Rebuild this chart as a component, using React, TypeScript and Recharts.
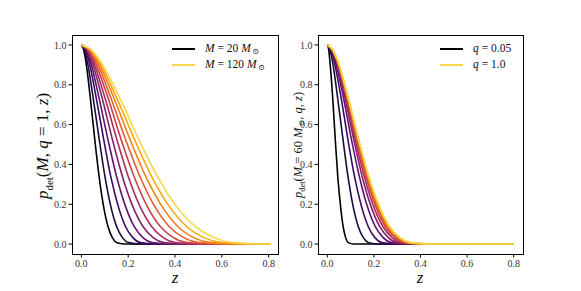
import React from 'react';
import { LineChart, Line, XAxis, YAxis } from 'recharts';

// detection-probability levels at which each curve's redshift was read
const pLevels = [1, 0.977, 0.919, 0.737, 0.528, 0.337, 0.188, 0.087, 0.031, 0.007, 0];
const zEnd = 0.8;

// Left panel: M = 20 ... 120 Msun, q = 1
const massValues = [20, 30, 40, 50, 60, 70, 80, 90, 100, 110, 120];
const massZ = [
  [0, 0.0095, 0.019, 0.038, 0.057, 0.076, 0.095, 0.114, 0.133, 0.152, 0.19],
  [0, 0.0126, 0.025, 0.05, 0.076, 0.101, 0.126, 0.151, 0.176, 0.202, 0.252],
  [0, 0.016, 0.032, 0.063, 0.095, 0.126, 0.158, 0.189, 0.221, 0.252, 0.315],
  [0, 0.019, 0.038, 0.075, 0.113, 0.151, 0.189, 0.226, 0.264, 0.302, 0.377],
  [0, 0.022, 0.044, 0.088, 0.132, 0.176, 0.22, 0.264, 0.308, 0.352, 0.44],
  [0, 0.025, 0.05, 0.1, 0.151, 0.201, 0.251, 0.301, 0.351, 0.402, 0.502],
  [0, 0.028, 0.056, 0.113, 0.169, 0.226, 0.282, 0.338, 0.395, 0.451, 0.564],
  [0, 0.031, 0.063, 0.125, 0.188, 0.251, 0.314, 0.376, 0.439, 0.502, 0.627],
  [0, 0.034, 0.069, 0.138, 0.207, 0.276, 0.345, 0.413, 0.482, 0.551, 0.689],
  [0, 0.038, 0.075, 0.15, 0.226, 0.301, 0.376, 0.451, 0.526, 0.602, 0.752],
  [0, 0.041, 0.081, 0.163, 0.244, 0.326, 0.407, 0.488, 0.57, 0.651, 0.814],
];

// Right panel: M = 60 Msun, q = 0.05 ... 1.0
const qValues = [0.05, 0.1, 0.2, 0.3, 0.4, 0.5, 0.6, 0.7, 0.8, 0.9, 1.0];
const qZ = [
  [0, 0.006, 0.011, 0.023, 0.034, 0.045, 0.057, 0.068, 0.079, 0.09, 0.113],
  [0, 0.011, 0.022, 0.044, 0.067, 0.089, 0.111, 0.133, 0.155, 0.178, 0.222],
  [0, 0.015, 0.029, 0.059, 0.088, 0.117, 0.147, 0.176, 0.205, 0.234, 0.293],
  [0, 0.017, 0.034, 0.069, 0.103, 0.138, 0.172, 0.206, 0.241, 0.275, 0.344],
  [0, 0.019, 0.038, 0.075, 0.113, 0.15, 0.188, 0.225, 0.263, 0.3, 0.375],
  [0, 0.02, 0.04, 0.08, 0.119, 0.159, 0.199, 0.239, 0.279, 0.318, 0.398],
  [0, 0.021, 0.042, 0.083, 0.125, 0.166, 0.208, 0.249, 0.291, 0.332, 0.415],
  [0, 0.021, 0.043, 0.086, 0.128, 0.171, 0.214, 0.257, 0.3, 0.342, 0.428],
  [0, 0.022, 0.044, 0.087, 0.131, 0.175, 0.219, 0.262, 0.306, 0.35, 0.437],
  [0, 0.022, 0.044, 0.089, 0.133, 0.177, 0.222, 0.266, 0.31, 0.354, 0.443],
  [0, 0.022, 0.045, 0.089, 0.134, 0.179, 0.224, 0.268, 0.313, 0.358, 0.447],
];

const curveColors = [
  '#000004', '#180c3c', '#3a0963', '#5f136e', '#832169', '#a82e5f',
  '#c9404a', '#e55c30', '#f57f13', '#fba90e', '#f6d746',
];

const xTicks = [0, 0.2, 0.4, 0.6, 0.8];
const yTicks = [0, 0.2, 0.4, 0.6, 0.8, 1.0];

const serif = "'Liberation Serif', 'DejaVu Serif', serif";
const tickStyle = { fontFamily: serif, fontSize: 10, fill: '#333' };

function toSeries(zs: number[]) {
  return zs.map((z, i) => ({ z, p: pLevels[i] })).concat([{ z: zEnd, p: 0 }]);
}

function Panel({ left, width, margin, yWidth, zs, frame }: any) {
  return (
    <>
      <div style={{ position: 'absolute', left, top: 0 }}>
        <LineChart width={width} height={291} margin={margin}>
          <XAxis
            type="number"
            dataKey="z"
            domain={[-0.04, 0.84]}
            allowDataOverflow
            ticks={xTicks}
            tickFormatter={(v: number) => v.toFixed(1)}
            tick={tickStyle}
            tickSize={3.5}
            tickMargin={2}
            height={30}
            axisLine={false}
            tickLine={{ stroke: '#000' }}
          />
          <YAxis
            type="number"
            domain={[-0.05, 1.05]}
            allowDataOverflow
            ticks={yTicks}
            tickFormatter={(v: number) => v.toFixed(1)}
            tick={tickStyle}
            tickSize={3.5}
            tickMargin={2}
            width={yWidth}
            axisLine={false}
            tickLine={{ stroke: '#000' }}
          />
          {zs.map((arr: number[], i: number) => (
            <Line
              key={i}
              data={toSeries(arr)}
              dataKey="p"
              type="monotone"
              stroke={curveColors[i]}
              strokeWidth={1.6}
              dot={false}
              activeDot={false}
              isAnimationActive={false}
            />
          ))}
        </LineChart>
      </div>
      <div
        style={{
          position: 'absolute',
          left: frame.x,
          top: frame.y,
          width: frame.w,
          height: frame.h,
          boxSizing: 'border-box',
          border: '1px solid #000',
          pointerEvents: 'none',
        }}
      />
    </>
  );
}

const abs = (style: any) => ({ position: 'absolute' as const, fontFamily: serif, color: '#111', whiteSpace: 'nowrap' as const, ...style });

function LegendRow({ x, y, color, children }: any) {
  return (
    <>
      <div style={{ position: 'absolute', left: x, top: y - 1, width: 23, height: 2, background: color }} />
      <div style={abs({ left: x + 33, top: y - 8, fontSize: 11.5, lineHeight: '15px' })}>{children}</div>
    </>
  );
}

const sun = (size: number) => (
  <sub style={{ fontSize: size, marginLeft: 1.5, verticalAlign: '-0.3em' }}>⊙</sub>
);

export default function App() {
  return (
    <div style={{ position: 'absolute', left: 0, top: 0, width: 581, height: 291, background: '#fff', overflow: 'hidden' }}>
      <Panel
        left={0}
        width={290}
        margin={{ top: 35, right: 12, bottom: 7, left: 32 }}
        yWidth={40}
        zs={massZ}
        frame={{ x: 72, y: 35, w: 207, h: 220 }}
      />
      <Panel
        left={290}
        width={291}
        margin={{ top: 35, right: 58, bottom: 7, left: 4 }}
        yWidth={24}
        zs={qZ}
        frame={{ x: 318, y: 35, w: 206, h: 220 }}
      />

      {/* y labels */}
      <div style={abs({ left: 44, top: 146, fontSize: 17, transform: 'translate(-50%, -50%) rotate(-90deg)' })}>
        <i>p</i><sub style={{ fontSize: 11 }}>det</sub>(<i>M</i>, <i>q</i> = 1, <i>z</i>)
      </div>
      <div style={abs({ left: 299, top: 145, fontSize: 12.5, transform: 'translate(-50%, -50%) rotate(-90deg)' })}>
        <i>p</i><sub style={{ fontSize: 8.5 }}>det</sub>(<i>M</i> = 60 <i>M</i>{sun(7.5)}, <i>q</i>, <i>z</i>)
      </div>

      {/* x labels */}
      <div style={abs({ left: 175, top: 278, fontSize: 17, transform: 'translate(-50%, -50%)' })}><i>z</i></div>
      <div style={abs({ left: 420, top: 278, fontSize: 17, transform: 'translate(-50%, -50%)' })}><i>z</i></div>

      {/* legends */}
      <LegendRow x={172} y={49} color={curveColors[0]}>
        <i>M</i> = {massValues[0]} <i>M</i>{sun(8)}
      </LegendRow>
      <LegendRow x={172} y={65} color={curveColors[10]}>
        <i>M</i> = {massValues[10]} <i>M</i>{sun(8)}
      </LegendRow>
      <LegendRow x={440} y={49} color={curveColors[0]}>
        <i>q</i> = {qValues[0].toFixed(2)}
      </LegendRow>
      <LegendRow x={440} y={65} color={curveColors[10]}>
        <i>q</i> = {qValues[10].toFixed(1)}
      </LegendRow>
    </div>
  );
}
